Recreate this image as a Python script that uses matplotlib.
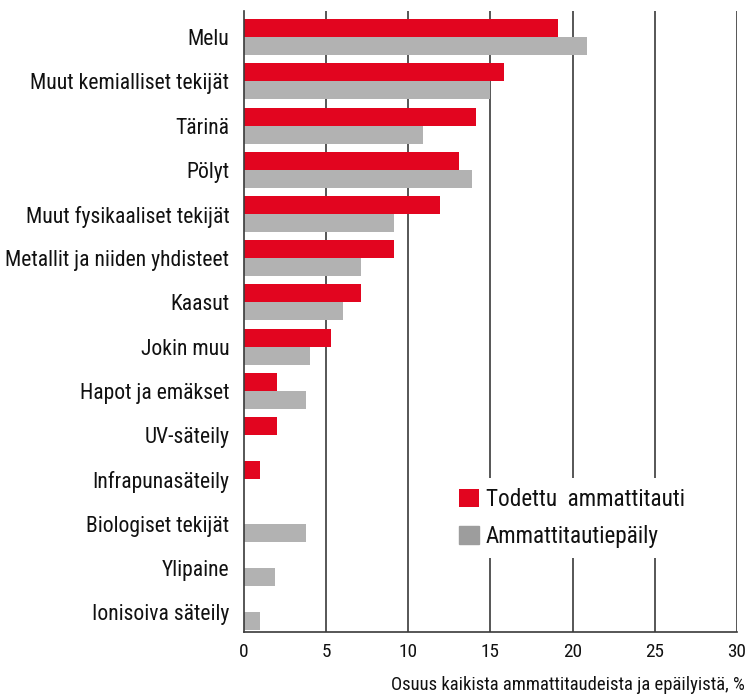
import matplotlib
matplotlib.use("Agg")
import matplotlib.pyplot as plt
from matplotlib import font_manager
import numpy as np

categories = ["Melu", "Muut kemialliset tekijät", "Tärinä", "Pölyt",
              "Muut fysikaaliset tekijät", "Metallit ja niiden yhdisteet",
              "Kaasut", "Jokin muu", "Hapot ja emäkset", "UV-säteily",
              "Infrapunasäteily", "Biologiset tekijät", "Ylipaine",
              "Ionisoiva säteily"]
todettu = [19.1, 15.8, 14.1, 13.1, 11.9, 9.1, 7.1, 5.3, 2.0, 2.0, 1.0, 0, 0, 0]
epaily = [20.9, 15.0, 10.9, 13.9, 9.1, 7.1, 6.0, 4.0, 3.8, 0, 0, 3.8, 1.9, 1.0]
xticks = [0, 5, 10, 15, 20, 25, 30]
series_names = ["Todettu  ammattitauti", "Ammattitautiepäily"]
xlabel = "Osuus kaikista ammattitaudeista ja epäilyistä, %"

chosen = "DejaVu Sans"
for fam in ["Roboto Condensed", "Liberation Sans Narrow", "Open Sans Condensed",
            "Noto Sans Condensed", "Roboto", "Liberation Sans"]:
    try:
        font_manager.findfont(font_manager.FontProperties(family=fam),
                              fallback_to_default=False)
        chosen = fam
        break
    except Exception:
        pass
FONT = [chosen, "DejaVu Sans"]
plt.rcParams["font.family"] = FONT

RED = "#E2051F"
GRAY = "#B2B2B2"
LINE = "#3a3a3a"

fig = plt.figure(figsize=(7.5, 6.95), dpi=100)
ax = fig.add_axes([244/750, 1-632/695, (737-244)/750, (632-11)/695])

y = np.arange(len(categories))
h = 0.407
ax.barh(y - h/2, todettu, height=h, color=RED, zorder=2, label=series_names[0])
ax.barh(y + h/2, epaily, height=h, color=GRAY, zorder=2, label=series_names[1])

ax.set_xlim(0, 30)
ax.set_ylim(13.45, -0.59)
ax.set_xticks(xticks)
ax.set_xticklabels([str(t) for t in xticks], fontsize=13)
ax.set_yticks(y)

renderer = fig.canvas.get_renderer()
def width_at10(s):
    p = fig.text(0, 0, s, fontsize=10)
    w = p.get_window_extent(renderer).width
    p.remove()
    return w

lab_size = min(17, 10 * 222 / width_at10("Metallit ja niiden yhdisteet"))
xl_size = min(15, 10 * 350 / width_at10(xlabel))
leg_size = min(18, 10 * 197 / width_at10(series_names[0]))

ax.set_yticklabels(categories, fontsize=lab_size, color="#111111")
ax.tick_params(axis="y", length=0, pad=10.5)
ax.tick_params(axis="x", length=0, pad=8)
for t in ax.get_xticklabels():
    t.set_fontsize(xl_size + 0.5)
    t.set_color("#111111")

for t in xticks[1:]:
    ax.axvline(t, color=LINE, lw=1.2, zorder=1)

ax.spines["top"].set_visible(False)
ax.spines["right"].set_visible(False)
for s in ["left", "bottom"]:
    ax.spines[s].set_color(LINE)
    ax.spines[s].set_linewidth(1.2)

px_em = leg_size * 100 / 72
leg = ax.legend(loc="upper left", bbox_to_anchor=((437-244)/493, 1-(466-11)/621),
                fontsize=leg_size, frameon=True, facecolor="white", edgecolor="none",
                framealpha=1, fancybox=False, handlelength=20/px_em,
                handleheight=18/px_em, handletextpad=7/px_em,
                labelspacing=0.6, borderpad=0.45)
leg.legend_handles[1].set_color("#9D9D9D")
for t in leg.get_texts():
    t.set_color("#111111")
leg.set_zorder(5)

fig.text(745/750, 1-685/695, xlabel, ha="right", va="center",
         fontsize=xl_size, color="#111111")

fig.savefig("out.png", dpi=100)
